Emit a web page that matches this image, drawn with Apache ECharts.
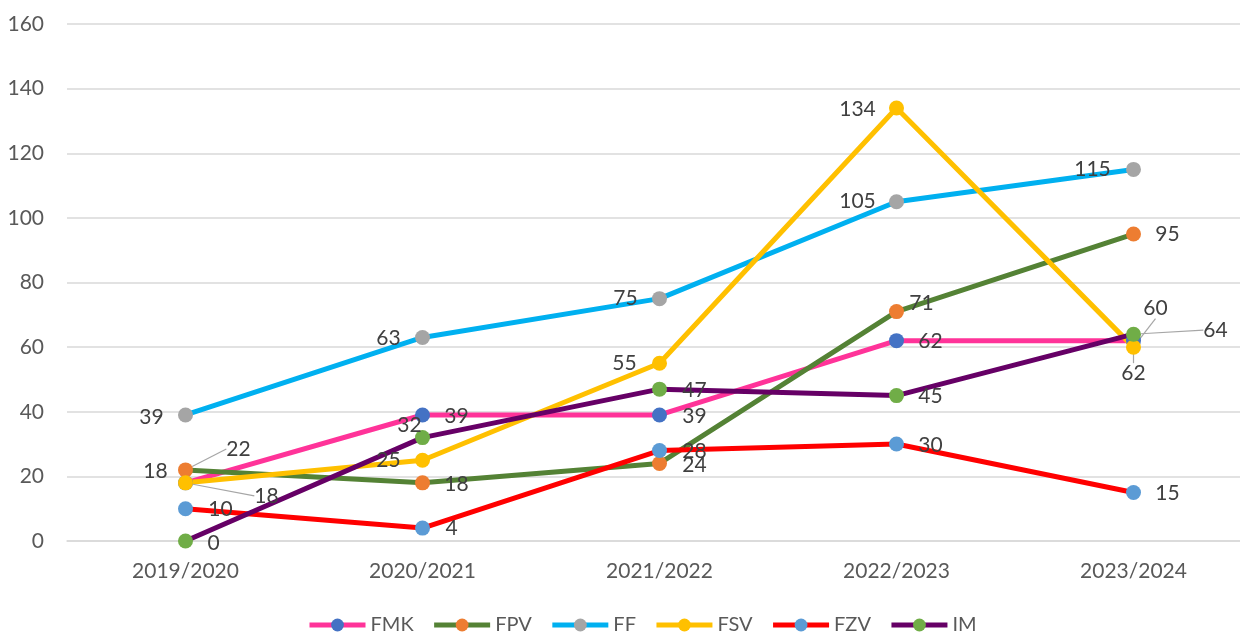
<!DOCTYPE html>
<html>
<head>
<meta charset="utf-8">
<script src="https://cdn.jsdelivr.net/npm/echarts@6/dist/echarts.min.js"></script>
<style>
html,body{margin:0;padding:0;background:#fff;}
#chart{width:1240px;height:634px;}
</style>
</head>
<body>
<div id="chart"></div>
<script>
// ---- data ----
var categories = ['2019/2020', '2020/2021', '2021/2022', '2022/2023', '2023/2024'];
var seriesNames = ['FMK', 'FPV', 'FF', 'FSV', 'FZV', 'IM'];
var FMK = [18, 39, 39, 62, 62];
var FPV = [22, 18, 24, 71, 95];
var FF  = [39, 63, 75, 105, 115];
var FSV = [18, 25, 55, 134, 60];
var FZV = [10, 4, 28, 30, 15];
var IM  = [0, 32, 47, 45, 64];
var yTicks = [0, 20, 40, 60, 80, 100, 120, 140, 160];

// ---- styling ----
var lineColors   = ['#FF3399', '#548235', '#00B0F0', '#FFC000', '#FF0000', '#660066'];
var markerColors = ['#4472C4', '#ED7D31', '#A5A5A5', '#FFC000', '#5B9BD5', '#70AD47'];
// label offsets (px) from marker centre, per series, per point
var labelOffsets = [
  [[-30,-12],[34,1],[35,1],[34,1],[0,33]],
  [[53,-21],[34,1],[35,2],[25,-8],[34,0]],
  [[-34,2],[-34,1],[-34,0],[-39,0],[-41,0]],
  [[81,13],[-34,0],[-35,0],[-39,1],[22,-39]],
  [[35,1],[29,0],[35,1],[34,1],[34,1]],
  [[28,2],[-13,-12],[35,1],[34,1],[82,-4]]
];
var leaderLines = [
  [false,false,false,false,true],
  [true,false,false,false,false],
  [false,false,false,false,false],
  [true,false,false,false,true],
  [false,false,false,false,false],
  [false,false,false,false,true]
];
var FONT = 'Lato, "Open Sans", sans-serif';
var allValues = [FMK, FPV, FF, FSV, FZV, IM];

var series = seriesNames.map(function (name, si) {
  return {
    name: name,
    type: 'line',
    data: allValues[si].map(function (v, di) {
      return { value: v, labelLine: { show: leaderLines[si][di] } };
    }),
    symbol: 'circle',
    symbolSize: 15,
    lineStyle: { color: lineColors[si], width: 5 },
    itemStyle: { color: markerColors[si] },
    label: {
      show: true,
      position: 'inside',
      color: '#404040',
      fontFamily: FONT,
      fontSize: 21
    },
    labelLine: { show: false, lineStyle: { color: '#A6A6A6', width: 1.2 } },
    labelLayout: function (p) {
      var o = labelOffsets[si][p.dataIndex];
      return { dx: o[0], dy: o[1] };
    },
    emphasis: { disabled: true }
  };
});

var chart = echarts.init(document.getElementById('chart'));
chart.setOption({
  animation: false,
  backgroundColor: '#ffffff',
  grid: { left: 67, width: 1185, top: 24, height: 517, containLabel: false, outerBoundsMode: 'none' },
  xAxis: {
    type: 'category',
    data: categories,
    boundaryGap: true,
    axisLine: { show: true, lineStyle: { color: '#D9D9D9', width: 1.5 } },
    axisTick: { show: false },
    axisLabel: { color: '#595959', fontFamily: FONT, fontSize: 21, margin: 20 }
  },
  yAxis: {
    type: 'value',
    min: yTicks[0],
    max: yTicks[yTicks.length - 1],
    interval: yTicks[1] - yTicks[0],
    axisLine: { show: false },
    axisTick: { show: false },
    splitLine: { lineStyle: { color: '#D9D9D9', width: 1.5 } },
    axisLabel: { color: '#595959', fontFamily: FONT, fontSize: 21, margin: 23 }
  },
  legend: {
    data: seriesNames,
    left: 307,
    top: 615,
    padding: 0,
    itemWidth: 56,
    itemHeight: 16,
    itemGap: 18,
    lineStyle: { width: 5 },
    textStyle: { color: '#595959', fontFamily: FONT, fontSize: 20 }
  },
  series: series
});
</script>
</body>
</html>
